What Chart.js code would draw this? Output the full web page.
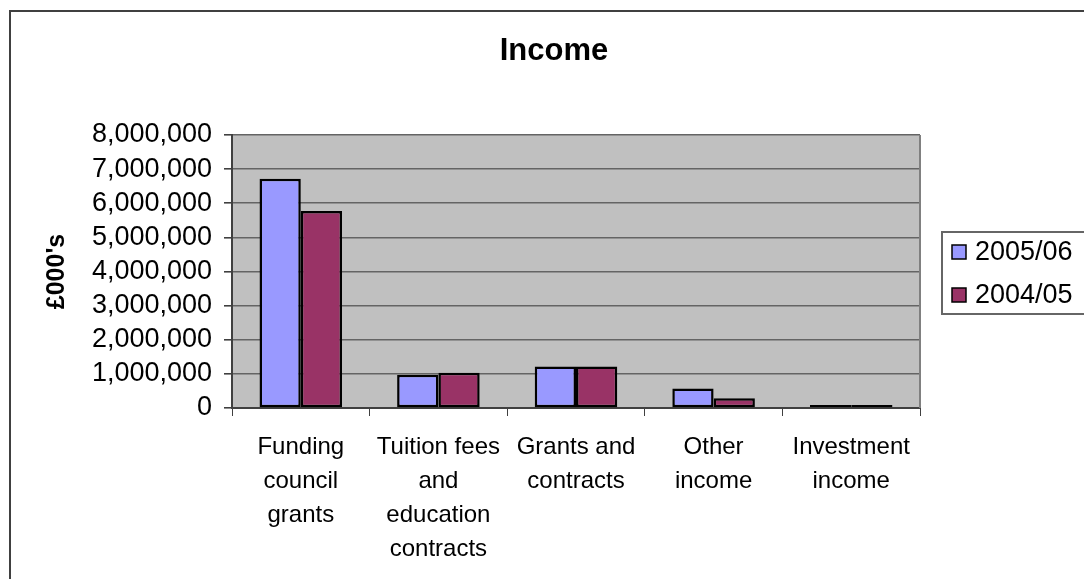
<!DOCTYPE html>
<html>
<head>
<meta charset="utf-8">
<title>Income</title>
<script src="https://cdn.jsdelivr.net/npm/chart.js@4.4.0/dist/chart.umd.min.js"></script>
<style>
  html, body { margin: 0; padding: 0; background: #fff; }
</style>
</head>
<body>
<canvas id="incomeChart" width="1084" height="579"></canvas>
<script>
// data (£000's)
const categories = [
    ['Funding', 'council', 'grants'],
    ['Tuition fees', 'and', 'education', 'contracts'],
    ['Grants and', 'contracts'],
    ['Other', 'income'],
    ['Investment', 'income']
];
const seriesLabels = ['2005/06', '2004/05'];
const income0506 = [6720000, 975000, 1215000, 575000, 90000];
const income0405 = [5770000, 1035000, 1215000, 285000, 90000];
const yTickValues = [0, 1000000, 2000000, 3000000, 4000000, 5000000, 6000000, 7000000, 8000000];

const chartTitle = 'Income';
const seriesColors = ['#9999ff', '#993366'];
const fontFamily = "'Liberation Sans', Arial, sans-serif";

// grey plot area, frame around the whole chart and the title
const plotBackground = {
    id: 'plotBackground',
    beforeDraw(chart) {
        const { ctx, chartArea: a } = chart;
        ctx.save();
        ctx.fillStyle = '#ffffff';
        ctx.fillRect(0, 0, chart.width, chart.height);
        ctx.strokeStyle = '#404040';
        ctx.lineWidth = 2;
        ctx.beginPath();
        ctx.moveTo(10, chart.height + 2);
        ctx.lineTo(10, 11);
        ctx.lineTo(chart.width + 2, 11);
        ctx.stroke();
        ctx.fillStyle = '#c0c0c0';
        ctx.fillRect(a.left, a.top, a.width, a.height);

        ctx.fillStyle = '#000';
        ctx.font = 'bold 31px ' + fontFamily;
        ctx.textAlign = 'center';
        ctx.textBaseline = 'middle';
        ctx.fillText(chartTitle, 554, 51);
        ctx.restore();
    },
    beforeDatasetsDraw(chart) {
        const { ctx, chartArea: a } = chart;
        ctx.save();
        ctx.strokeStyle = '#808080';
        ctx.lineWidth = 2;
        ctx.beginPath();
        ctx.moveTo(a.right, a.top);
        ctx.lineTo(a.right, a.bottom);
        ctx.stroke();
        ctx.restore();
    }
};

// Excel style legend box on the right
const boxLegend = {
    id: 'boxLegend',
    afterDraw(chart) {
        const { ctx, chartArea: a } = chart;
        const left = a.right + 22;
        const top = 232;
        const bottom = 314;
        ctx.save();
        ctx.strokeStyle = '#666666';
        ctx.lineWidth = 2;
        ctx.strokeRect(left, top, chart.width - left + 10, bottom - top);
        ctx.font = '27px ' + fontFamily;
        ctx.textBaseline = 'middle';
        chart.data.datasets.forEach((ds, i) => {
            const cy = 252 + i * 43;
            ctx.fillStyle = ds.backgroundColor;
            ctx.fillRect(left + 10, cy - 7, 14, 14);
            ctx.strokeStyle = '#000';
            ctx.lineWidth = 1.5;
            ctx.strokeRect(left + 10, cy - 7, 14, 14);
            ctx.fillStyle = '#000';
            ctx.fillText(ds.label, left + 33, cy + 1);
        });
        ctx.restore();
    }
};

const incomeCtx = document.getElementById('incomeChart').getContext('2d');

const incomeChart = new Chart(incomeCtx, {
    type: 'bar',
    data: {
        labels: categories,
        datasets: [{
            label: seriesLabels[0],
            data: income0506,
            backgroundColor: seriesColors[0],
            borderColor: '#000000',
            borderWidth: 2.5,
            borderSkipped: false
        }, {
            label: seriesLabels[1],
            data: income0405,
            backgroundColor: seriesColors[1],
            borderColor: '#000000',
            borderWidth: 2.5,
            borderSkipped: false
        }]
    },
    options: {
        responsive: false,
        animation: false,
        layout: {
            padding: { top: 135, right: 164, bottom: 0, left: 0 }
        },
        datasets: {
            bar: { categoryPercentage: 0.6, barPercentage: 1.0 }
        },
        plugins: {
            legend: { display: false },
            tooltip: { enabled: false },
            title: { display: false }
        },
        scales: {
            x: {
                grid: {
                    drawOnChartArea: false,
                    drawTicks: true,
                    tickLength: 8,
                    color: '#404040',
                    offset: true
                },
                border: { color: '#404040', width: 2 },
                ticks: {
                    color: '#000',
                    font: { family: fontFamily, size: 24, lineHeight: 1.42 },
                    padding: 14,
                    maxRotation: 0,
                    autoSkip: false
                },
                afterFit(scale) { scale.height = 579 - 408; }
            },
            y: {
                min: 0,
                max: 8000000,
                afterBuildTicks(scale) {
                    scale.ticks = yTickValues.map(v => ({ value: v }));
                },
                grid: {
                    color: '#646464',
                    lineWidth: 1.6,
                    tickLength: 8,
                    tickColor: '#404040'
                },
                border: { color: '#404040', width: 2 },
                ticks: {
                    color: '#000',
                    autoSkip: false,
                    font: { family: fontFamily, size: 27 },
                    padding: 12,
                    callback: v => v.toLocaleString('en-GB')
                },
                title: {
                    display: true,
                    text: "£000's",
                    color: '#000',
                    font: { family: fontFamily, size: 25, weight: 'bold', lineHeight: 1.2 },
                    padding: { top: 42, bottom: 0 }
                },
                afterFit(scale) { scale.width = 232; }
            }
        }
    },
    plugins: [plotBackground, boxLegend]
});
</script>
</body>
</html>
